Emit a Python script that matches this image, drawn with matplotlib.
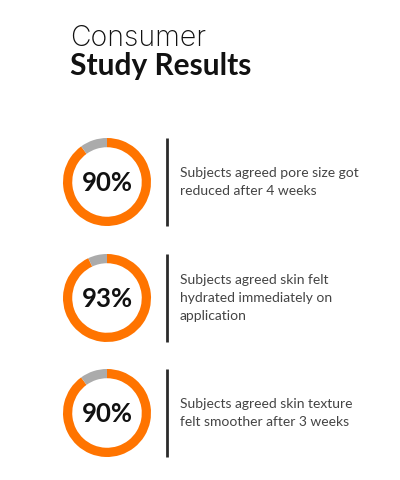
import matplotlib
matplotlib.use("Agg")
import matplotlib.pyplot as plt

# data
title_light = "Consumer"
title_bold = "Study Results"
percents = [90, 93, 90]
descriptions = [
    "Subjects agreed pore size got\nreduced after 4 weeks",
    "Subjects agreed skin felt\nhydrated immediately on\napplication",
    "Subjects agreed skin texture\nfelt smoother after 3 weeks",
]

W, H = 400, 480
ORANGE = "#FF7400"
GREY = "#ABABAB"

fig = plt.figure(figsize=(W / 100, H / 100), dpi=100)
fig.patch.set_facecolor("white")

bg = fig.add_axes([0, 0, 1, 1])
bg.set_xlim(0, W)
bg.set_ylim(H, 0)
bg.axis("off")

bg.text(70, 46, title_light, fontsize=20.5, fontfamily="Inter", fontweight="light",
        color="#111111", va="baseline", ha="left")
bg.text(70, 75, title_bold, fontsize=21.5, fontfamily="Lato", fontweight="bold",
        color="#111111", va="baseline", ha="left")

centers_y = [182, 298, 413]
cx, r = 107, 44
for pct, desc, cy in zip(percents, descriptions, centers_y):
    ax = fig.add_axes([(cx - r) / W, 1 - (cy + r) / H, 2 * r / W, 2 * r / H])
    ax.pie([pct, 100 - pct], colors=[ORANGE, GREY], startangle=90,
           counterclock=False, radius=1,
           wedgeprops=dict(width=0.21, edgecolor="none"))
    ax.set_xlim(-1, 1)
    ax.set_ylim(-1, 1)
    ax.set_aspect("equal")
    ax.axis("off")
    ax.text(0, -0.02, f"{pct}%", ha="center", va="center", fontsize=18.5,
            fontfamily="Lato", fontweight="bold", color="#111111")

    bg.plot([167, 167], [cy - 44, cy + 44], color="#2b2b2b", lw=2,
            solid_capstyle="butt")
    bg.text(180, cy, desc, fontsize=10, fontfamily="Lato", color="#444444",
            ha="left", va="center", linespacing=1.6)

fig.savefig("out.png", dpi=100)
